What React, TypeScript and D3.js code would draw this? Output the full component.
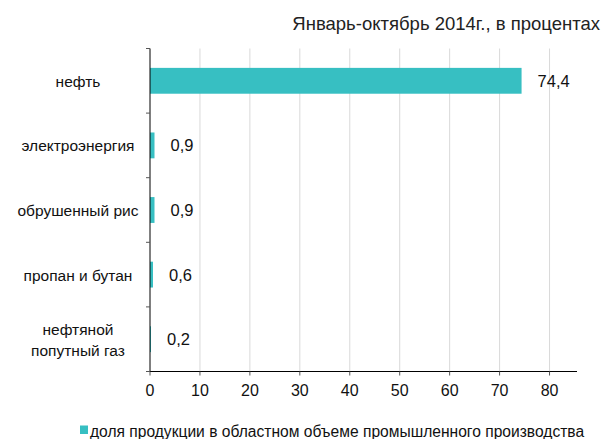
import React from 'react';
import * as d3 from 'd3';

const categories = ['нефть', 'электроэнергия', 'обрушенный рис', 'пропан и бутан', 'нефтяной попутный газ'];
const categoryLines = [['нефть'], ['электроэнергия'], ['обрушенный рис'], ['пропан и бутан'], ['нефтяной', 'попутный газ']];
const shares = [74.4, 0.9, 0.9, 0.6, 0.2];
const xTicks = [0, 10, 20, 30, 40, 50, 60, 70, 80];
const title = 'Январь-октябрь 2014г., в процентах';
const legendLabel = 'доля продукции в областном объеме промышленного производства';

const W = 605;
const H = 439;
const margin = { top: 48.5, right: 28, bottom: 67.5, left: 150 };
const color = '#37bfc2';
const font = '"Liberation Sans", Arial, sans-serif';

function App() {
  const x = d3.scaleLinear().domain([0, 85.5]).range([margin.left, W - margin.right]);
  const y = d3.scaleBand<string>().domain(categories).range([margin.top, H - margin.bottom]);
  const step = y.step();
  const barH = step * 0.4;
  const fmt = (v: number) => String(v).replace('.', ',');

  return (
    <svg width={W} height={H} style={{ position: 'absolute', left: 0, top: 0 }} fontFamily={font}>
      <text x={600} y={30} textAnchor="end" fontSize={18.5} fill="#222">{title}</text>

      {/* grid */}
      {xTicks.slice(1).map((t) => (
        <line key={t} x1={x(t)} x2={x(t)} y1={margin.top} y2={H - margin.bottom} stroke="#d9d9d9" strokeWidth={1} />
      ))}

      {/* bars + values */}
      {categories.map((c, i) => {
        const cy = y(c)! + step / 2;
        return (
          <g key={c}>
            <rect x={x(0)} y={cy - barH / 2} width={x(shares[i]) - x(0)} height={barH} fill={color} />
            <text x={x(shares[i]) + 16} y={cy + 6} fontSize={16.5} fill="#111">{fmt(shares[i])}</text>
          </g>
        );
      })}

      {/* y axis */}
      <line x1={x(0)} x2={x(0)} y1={margin.top} y2={H - margin.bottom} stroke="#000" />
      {d3.range(categories.length + 1).map((i) => {
        const yy = margin.top + i * step;
        return <line key={i} x1={x(0) - 4} x2={x(0)} y1={yy} y2={yy} stroke="#555" />;
      })}
      {categories.map((c, i) => {
        const cy = y(c)! + step / 2;
        const lines = categoryLines[i];
        const lh = 21;
        const y0 = cy + 6 - ((lines.length - 1) * lh) / 2;
        return (
          <text key={c} x={78} textAnchor="middle" fontSize={15.5} fill="#111">
            {lines.map((l, j) => (
              <tspan key={j} x={78} y={y0 + j * lh}>{l}</tspan>
            ))}
          </text>
        );
      })}

      {/* x axis */}
      <line x1={x(0)} x2={W - margin.right} y1={H - margin.bottom} y2={H - margin.bottom} stroke="#000" />
      {xTicks.map((t) => (
        <g key={t}>
          <line x1={x(t)} x2={x(t)} y1={H - margin.bottom} y2={H - margin.bottom + 4} stroke="#555" />
          <text x={x(t)} y={H - margin.bottom + 24} textAnchor="middle" fontSize={16} fill="#111">{t}</text>
        </g>
      ))}

      {/* legend */}
      <rect x={80} y={425.5} width={8} height={8.5} fill={color} />
      <text x={90} y={437} fontSize={15.6} fill="#111">{legendLabel}</text>
    </svg>
  );
}

export default App;
